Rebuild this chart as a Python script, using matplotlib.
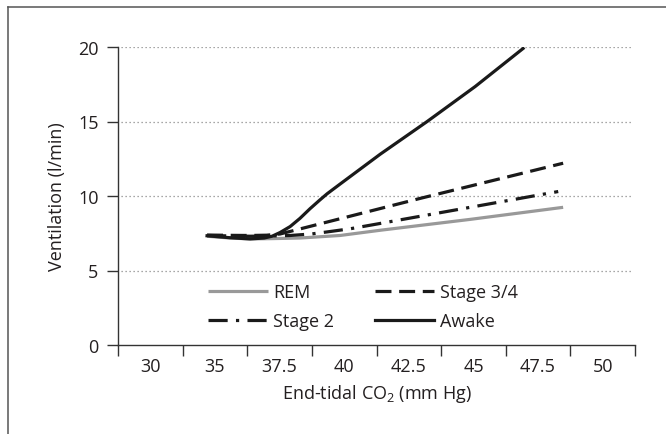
import matplotlib
matplotlib.use('Agg')
import matplotlib.pyplot as plt
import numpy as np
from matplotlib.lines import Line2D

# ---- data (end-tidal CO2 in mm Hg, ventilation in l/min) ----
tick_values = [30, 35, 37.5, 40, 42.5, 45, 47.5, 50]
tick_labels = ['30', '35', '37.5', '40', '42.5', '45', '47.5', '50']

rem_x = [34.39, 35.58, 36.36, 37.21, 38.29, 39.84, 41.39, 44.87, 48.47]
rem_y = [7.30, 7.18, 7.12, 7.14, 7.18, 7.35, 7.70, 8.43, 9.24]

stage2_x = [34.39, 35.58, 36.36, 37.21, 37.91, 38.72, 39.30, 40.23, 41.27, 48.28]
stage2_y = [7.35, 7.32, 7.30, 7.32, 7.35, 7.45, 7.58, 7.80, 8.12, 10.30]

stage34_x = [34.39, 35.58, 36.36, 37.00, 37.52, 42.94, 48.47]
stage34_y = [7.38, 7.36, 7.35, 7.37, 7.45, 9.84, 12.20]

awake_x = [34.39, 35.58, 36.36, 36.90, 37.21, 37.52, 37.91, 38.29, 38.68, 39.07,
           39.34, 39.84, 41.39, 43.21, 45.07, 46.92]
awake_y = [7.33, 7.20, 7.12, 7.18, 7.30, 7.55, 7.95, 8.50, 9.15, 9.75,
           10.15, 10.80, 12.80, 15.00, 17.35, 19.90]

# ---- style ----
FONT = 'Open Sans'
plt.rcParams['font.family'] = [FONT, 'DejaVu Sans']
plt.rcParams['mathtext.fontset'] = 'custom'
plt.rcParams['mathtext.rm'] = FONT
plt.rcParams['mathtext.it'] = FONT + ':italic'
FS = 13
TXT = '#231f20'
AX = '#333333'

fig = plt.figure(figsize=(6.66, 4.35), dpi=100)
ax = fig.add_axes([118 / 666, 1 - 346 / 435, (635 - 118) / 666, (346 - 48) / 435])

# category-like x scale: labels evenly spaced
xp = [25, 30, 35, 37.5, 40, 42.5, 45, 47.5, 50, 52.5]
fp = [-0.5, 0.5, 1.5, 2.5, 3.5, 4.5, 5.5, 6.5, 7.5, 8.5]
fwd = lambda v: np.interp(v, xp, fp)
inv = lambda p: np.interp(p, fp, xp)
ax.set_xscale('function', functions=(fwd, inv))
edges = inv(np.arange(0, 9))
ax.set_xlim(edges[0], edges[-1])
ax.set_ylim(0, 20)

# grid
for yv in [5, 10, 15, 20]:
    ax.axhline(yv, xmin=0.005, xmax=0.995, color='#8a8a8a', lw=0.9,
               linestyle=(0, (1, 2.2)), zorder=1)

lw = 2.3
ax.plot(rem_x, rem_y, color='#999999', lw=lw, solid_capstyle='butt', label='REM', zorder=3)
ax.plot(stage2_x, stage2_y, color='#1a1a1a', lw=lw, linestyle=(0, (6, 2.6, 1, 2.6)),
        label='Stage 2', zorder=4)
ax.plot(stage34_x, stage34_y, color='#1a1a1a', lw=lw, linestyle=(0, (5, 2.4)),
        label='Stage 3/4', zorder=4)
ax.plot(awake_x, awake_y, color='#1a1a1a', lw=lw, label='Awake', zorder=5)

# spines / ticks
for s in ['top', 'right']:
    ax.spines[s].set_visible(False)
for s in ['left', 'bottom']:
    ax.spines[s].set_color(AX)
    ax.spines[s].set_linewidth(1.0)

ax.set_yticks([0, 5, 10, 15, 20])
ax.tick_params(axis='y', direction='out', length=8, width=1.0, color=AX,
               labelsize=FS, labelcolor=TXT, pad=6)
ax.set_xticks(tick_values)
ax.set_xticklabels(tick_labels)
ax.set_xticks(edges, minor=True)
ax.tick_params(axis='x', which='major', length=0, labelsize=FS, labelcolor=TXT, pad=9)
ax.tick_params(axis='x', which='minor', direction='out', length=8, width=1.0, color=AX)
ax.xaxis.set_minor_formatter(matplotlib.ticker.NullFormatter())

ax.set_xlabel('End-tidal CO$_2$ (mm Hg)', fontsize=FS, color=TXT, labelpad=5)
ax.set_ylabel('Ventilation (l/min)', fontsize=FS, color=TXT, labelpad=9)

h, l = ax.get_legend_handles_labels()
order = [0, 1, 2, 3]  # REM, Stage 2 | Stage 3/4, Awake
leg = ax.legend([h[i] for i in order], [l[i] for i in order], ncol=2,
                loc='upper left', bbox_to_anchor=(208 / 666, 1 - 284 / 435),
                bbox_transform=fig.transFigure, frameon=False, fontsize=FS,
                handlelength=3.3, handletextpad=0.3, columnspacing=2.25,
                labelspacing=0.62, borderpad=0, borderaxespad=0)
for t in leg.get_texts():
    t.set_color(TXT)

# outer frame (left and top edges)
fig.add_artist(Line2D([8 / 666, 8 / 666], [0, 1 - 8 / 435], transform=fig.transFigure,
                      color='#555555', lw=1.1))
fig.add_artist(Line2D([8 / 666, 1], [1 - 8 / 435, 1 - 8 / 435], transform=fig.transFigure,
                      color='#555555', lw=1.1))

fig.savefig('out.png', dpi=100)
